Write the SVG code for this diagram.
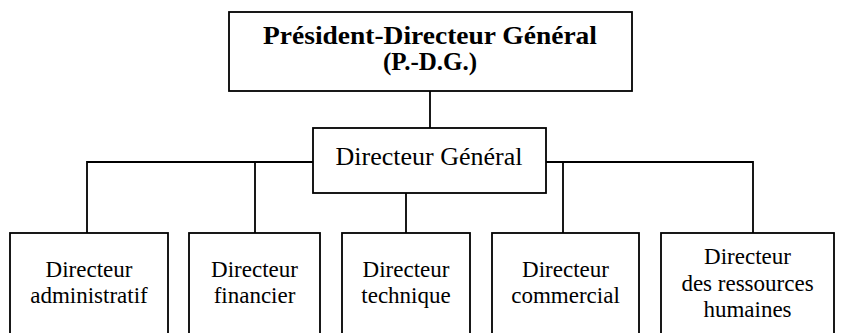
<svg xmlns="http://www.w3.org/2000/svg" width="843" height="333" viewBox="0 0 843 333">
<style>
.box{fill:#fff;stroke:#000;stroke-width:1.8}
.ln{fill:none;stroke:#000;stroke-width:1.8}
.t{font-family:"Liberation Serif","Times New Roman",serif;fill:#000;text-anchor:middle}
.b{font-weight:bold;font-size:25px}
.m{font-size:26px}
.s{font-size:23px}
</style>
<rect width="843" height="333" fill="#fff"/>
<g id="connectors">
<path class="ln" d="M430,91 V128"/>
<path class="ln" d="M313,162 H87 V233 M255,162 V233"/>
<path class="ln" d="M546,162 H753 V233 M563,162 V233"/>
<path class="ln" d="M406,193 V233"/>
</g>
<g id="pdg">
<rect class="box" x="229" y="12" width="403" height="79"/>
<text class="t b" x="430" y="44" textLength="334" lengthAdjust="spacingAndGlyphs">Président-Directeur Général</text>
<text class="t b" x="430" y="70">(P.-D.G.)</text>
</g>
<g id="dg">
<rect class="box" x="313" y="128" width="233" height="65"/>
<text class="t m" x="429" y="165">Directeur Général</text>
</g>
<g id="admin">
<rect class="box" x="10" y="233" width="158" height="110"/>
<text class="t s" x="89" y="277">Directeur</text>
<text class="t s" x="89" y="303">administratif</text>
</g>
<g id="fin">
<rect class="box" x="189" y="233" width="131" height="110"/>
<text class="t s" x="254.5" y="277">Directeur</text>
<text class="t s" x="254.5" y="303">financier</text>
</g>
<g id="tech">
<rect class="box" x="342" y="233" width="128" height="110"/>
<text class="t s" x="406" y="277">Directeur</text>
<text class="t s" x="406" y="303">technique</text>
</g>
<g id="com">
<rect class="box" x="492" y="233" width="147" height="110"/>
<text class="t s" x="565.5" y="277">Directeur</text>
<text class="t s" x="565.5" y="303">commercial</text>
</g>
<g id="rh">
<rect class="box" x="661" y="233" width="173" height="110"/>
<text class="t s" x="747.5" y="264">Directeur</text>
<text class="t s" x="747.5" y="291">des ressources</text>
<text class="t s" x="747.5" y="317">humaines</text>
</g>
</svg>
